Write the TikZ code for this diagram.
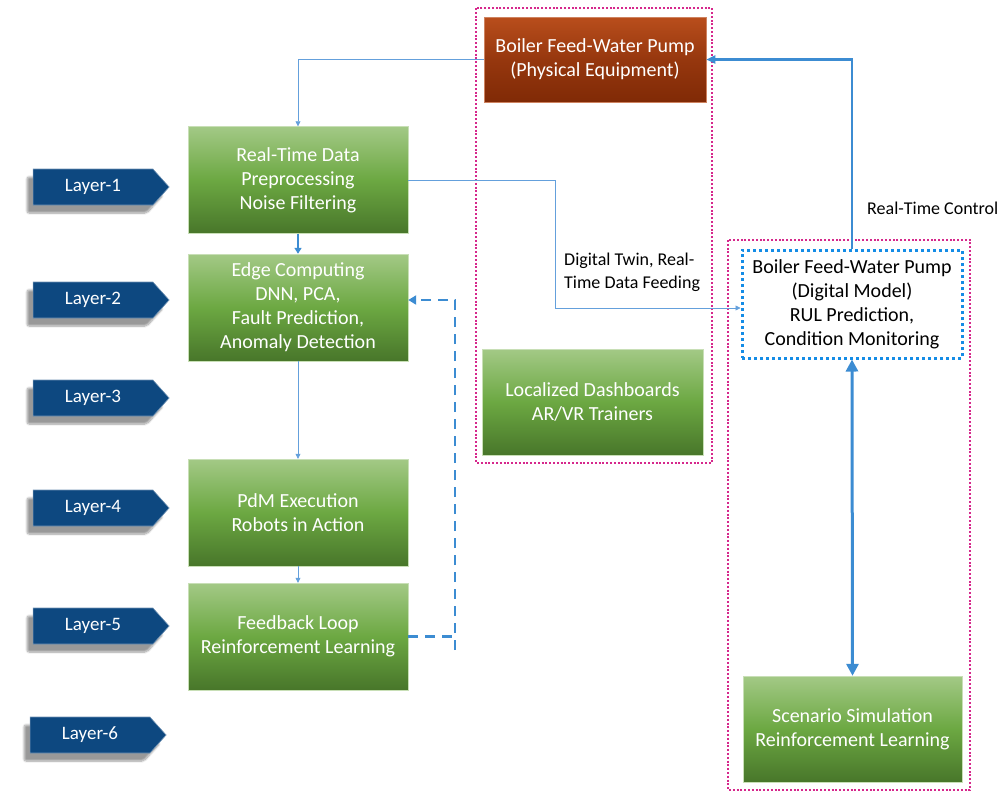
\documentclass[tikz,border=0pt]{standalone}
\usepackage{fontspec}
\setmainfont{Carlito}
\usetikzlibrary{shapes.symbols,shadows.blur,arrows.meta,calc}
\definecolor{gtop}{RGB}{163,201,134}
\definecolor{gmid}{RGB}{108,168,66}
\definecolor{gbot}{RGB}{72,118,42}
\definecolor{otop}{RGB}{185,78,28}
\definecolor{omid}{RGB}{150,55,14}
\definecolor{obot}{RGB}{128,42,6}
\definecolor{lblue}{RGB}{13,72,128}
\definecolor{thinblue}{RGB}{100,160,220}
\definecolor{thickblue}{RGB}{60,140,210}
\definecolor{dotblue}{RGB}{20,140,230}
\definecolor{pinkdot}{RGB}{214,40,140}
\tikzset{
  gbox/.style={rectangle, minimum width=220pt, minimum height=107pt, top color=gtop, bottom color=gbot, middle color=gmid, text=white, align=center, font=\fontsize{20}{24}\selectfont, draw=gtop!60!white, line width=0.4pt, inner sep=0pt},
  obox/.style={rectangle, minimum width=222pt, minimum height=85pt, top color=otop, bottom color=obot, middle color=omid, text=white, align=center, font=\fontsize{20}{24}\selectfont, draw=otop!70!white, line width=0.5pt, inner sep=0pt},
  dmbox/.style={rectangle, minimum width=220pt, minimum height=108pt, draw=dotblue, line width=3pt, dash pattern=on 3pt off 3pt, text=black, align=center, font=\fontsize{20}{24}\selectfont, inner sep=0pt},
  layerbox/.style={signal, signal to=east, signal pointer angle=96, minimum width=136pt, minimum height=36pt, fill=lblue, draw=lblue!60!white, line width=0.6pt, text=white, font=\fontsize{19}{20}\selectfont, inner sep=0pt, blur shadow={shadow xshift=-6pt, shadow yshift=-8pt, shadow blur steps=8, shadow blur extra rounding=2pt}},
  pinkbox/.style={draw=pinkdot, line width=2.2pt, dash pattern=on 2pt off 1.8pt},
  thinarr/.style={draw=thinblue, line width=0.7pt, -{Triangle[length=5pt,width=5pt]}},
  thickarr/.style={draw=thickblue, line width=2.2pt, -{Triangle[length=9pt,width=8pt]}},
  dblarr/.style={draw=thickblue, line width=3pt, {Triangle[length=12pt,width=12pt]}-{Triangle[length=12pt,width=12pt]}},
  dashline/.style={draw=thickblue, line width=2.4pt, dash pattern=on 10pt off 7pt},
  dasharr/.style={dashline, -{Triangle[length=8pt,width=9pt]}},
  lbl/.style={font=\fontsize{18}{23}\selectfont, text=black, align=left, inner sep=0pt},
}
\begin{document}
\begin{tikzpicture}[x=1pt,y=-1pt]
\useasboundingbox (0,0) rectangle (1002,793);
% dotted pink frames
\draw[pinkbox] (476,8) rectangle (712,463);
\draw[pinkbox] (728,240) rectangle (970,790);
% layer markers
\node[layerbox] (l1) at (93,187) {Layer-1};
\node[layerbox] (l2) at (93,300) {Layer-2};
\node[layerbox] (l3) at (93,398) {Layer-3};
\node[layerbox] (l4) at (93,508) {Layer-4};
\node[layerbox] (l5) at (93,626) {Layer-5};
\node[layerbox] (l6) at (90,735) {Layer-6};
% left column
\node[gbox] (b1) at (298,180) {Real-Time Data\\Preprocessing\\Noise Filtering};
\node[gbox] (b2) at (298,307.5) {Edge Computing\\DNN, PCA,\\Fault Prediction,\\Anomaly Detection};
\node[gbox] (b3) at (298,512.5) {PdM Execution\\Robots in Action};
\node[gbox] (b4) at (298,636.5) {Feedback Loop\\Reinforcement Learning};
% middle
\node[obox] (pe) at (595,59.5) {Boiler Feed-Water Pump\\(Physical Equipment)};
\node[gbox, minimum width=221pt, minimum height=106pt] (ld) at (592.5,402) {Localized Dashboards\\AR/VR Trainers};
% right
\node[dmbox] (dm) at (852,304) {Boiler Feed-Water Pump\\(Digital Model)\\RUL Prediction,\\Condition Monitoring};
\node[gbox, minimum width=219pt, minimum height=106pt] (sc) at (852.5,729) {Scenario Simulation\\Reinforcement Learning};
% connectors
\draw[thinarr] (pe.west) -| (b1.north);
\draw[thickarr, line width=1.8pt, -{Triangle[length=6pt,width=7pt]}] (b1.south) -- (b2.north);
\draw[thinarr] (b2.south) -- (b3.north);
\draw[thinarr] (b3.south) -- (b4.north);
\coordinate (dtc) at (555,180);
\draw[thinarr] (b1.east) -- (dtc) |- ($(dm.west)+(0,4)$);
\draw[thickarr] (dm.north) |- (pe.east);
\draw[dblarr] (dm.south) -- (sc.north);
\coordinate (fbc) at (455,636.5);
\coordinate (fbb) at (455,650);
\draw[dashline] (b4.east) -- (fbc);
\draw[dasharr] (fbb) |- ($(b2.east)+(0,-7.5)$);
% labels
\node[lbl, anchor=north west] (dtl) at (564,253) {Digital Twin, Real-\\Time Data Feeding};
\node[lbl, anchor=west] (rtc) at (867,208) {Real-Time Control};
\end{tikzpicture}
\end{document}
